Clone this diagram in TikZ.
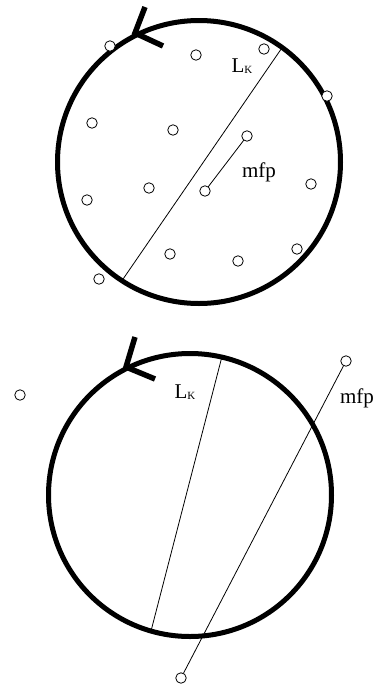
\documentclass[tikz,border=0pt]{standalone}
\usepackage{fontspec}
\setmainfont{Liberation Serif}
\begin{document}
\begin{tikzpicture}[x=1pt,y=-1pt,
  big/.style={circle,draw,line width=5pt,inner sep=0,outer sep=0,minimum size=#1},
  dot/.style={circle,draw,line width=0.8pt,inner sep=0,outer sep=0,minimum size=10.5pt,fill=white},
  thin/.style={line width=0.8pt},
  arr/.style={line width=5.5pt},
  lbl/.style={inner sep=0,font=\fontsize{21}{21}\selectfont}]
\useasboundingbox (0,0) rectangle (376,686);
% top circle
\node[big=283pt] (c1) at (199,162) {};
\coordinate (a1) at (135,33);
\coordinate (a1u) at (145,7);
\coordinate (a1d) at (163,46);
\draw[arr] (a1u) -- (a1) -- (a1d);
\draw[thin] (c1.54) -- (c1.237);
\foreach \n/\p in {p1/{(110,46)},p2/{(196,55)},p3/{(264,49)},p4/{(327,96)},p5/{(92,123)},p6/{(173,130)},p7/{(247,136)},p8/{(311,184)},p9/{(87,200)},p10/{(149,188)},p11/{(205,191)},p12/{(170,254)},p13/{(238,261)},p14/{(297,249)},p15/{(99,279)}}
  \node[dot] (\n) at \p {};
\draw[thin] (p7) -- (p11);
\node[lbl] (lk1) at (242,66) {L\raisebox{-1.5pt}{\fontsize{11}{11}\selectfont K}};
\node[lbl] (mfp1) at (259,172) {mfp};
% bottom circle
\node[big=283pt] (c2) at (190,495) {};
\coordinate (a2) at (126,367);
\coordinate (a2u) at (135,337);
\coordinate (a2d) at (155,379);
\draw[arr] (a2u) -- (a2) -- (a2d);
\draw[thin] (c2.77.7) -- (c2.254.6);
\node[dot] (q1) at (346,361) {};
\node[dot] (q2) at (181,678) {};
\node[dot] (q3) at (20,395) {};
\draw[thin] (q1) -- (q2);
\node[lbl] (lk2) at (185,392) {L\raisebox{-1.5pt}{\fontsize{11}{11}\selectfont K}};
\node[lbl] (mfp2) at (357,398) {mfp};
\end{tikzpicture}
\end{document}
